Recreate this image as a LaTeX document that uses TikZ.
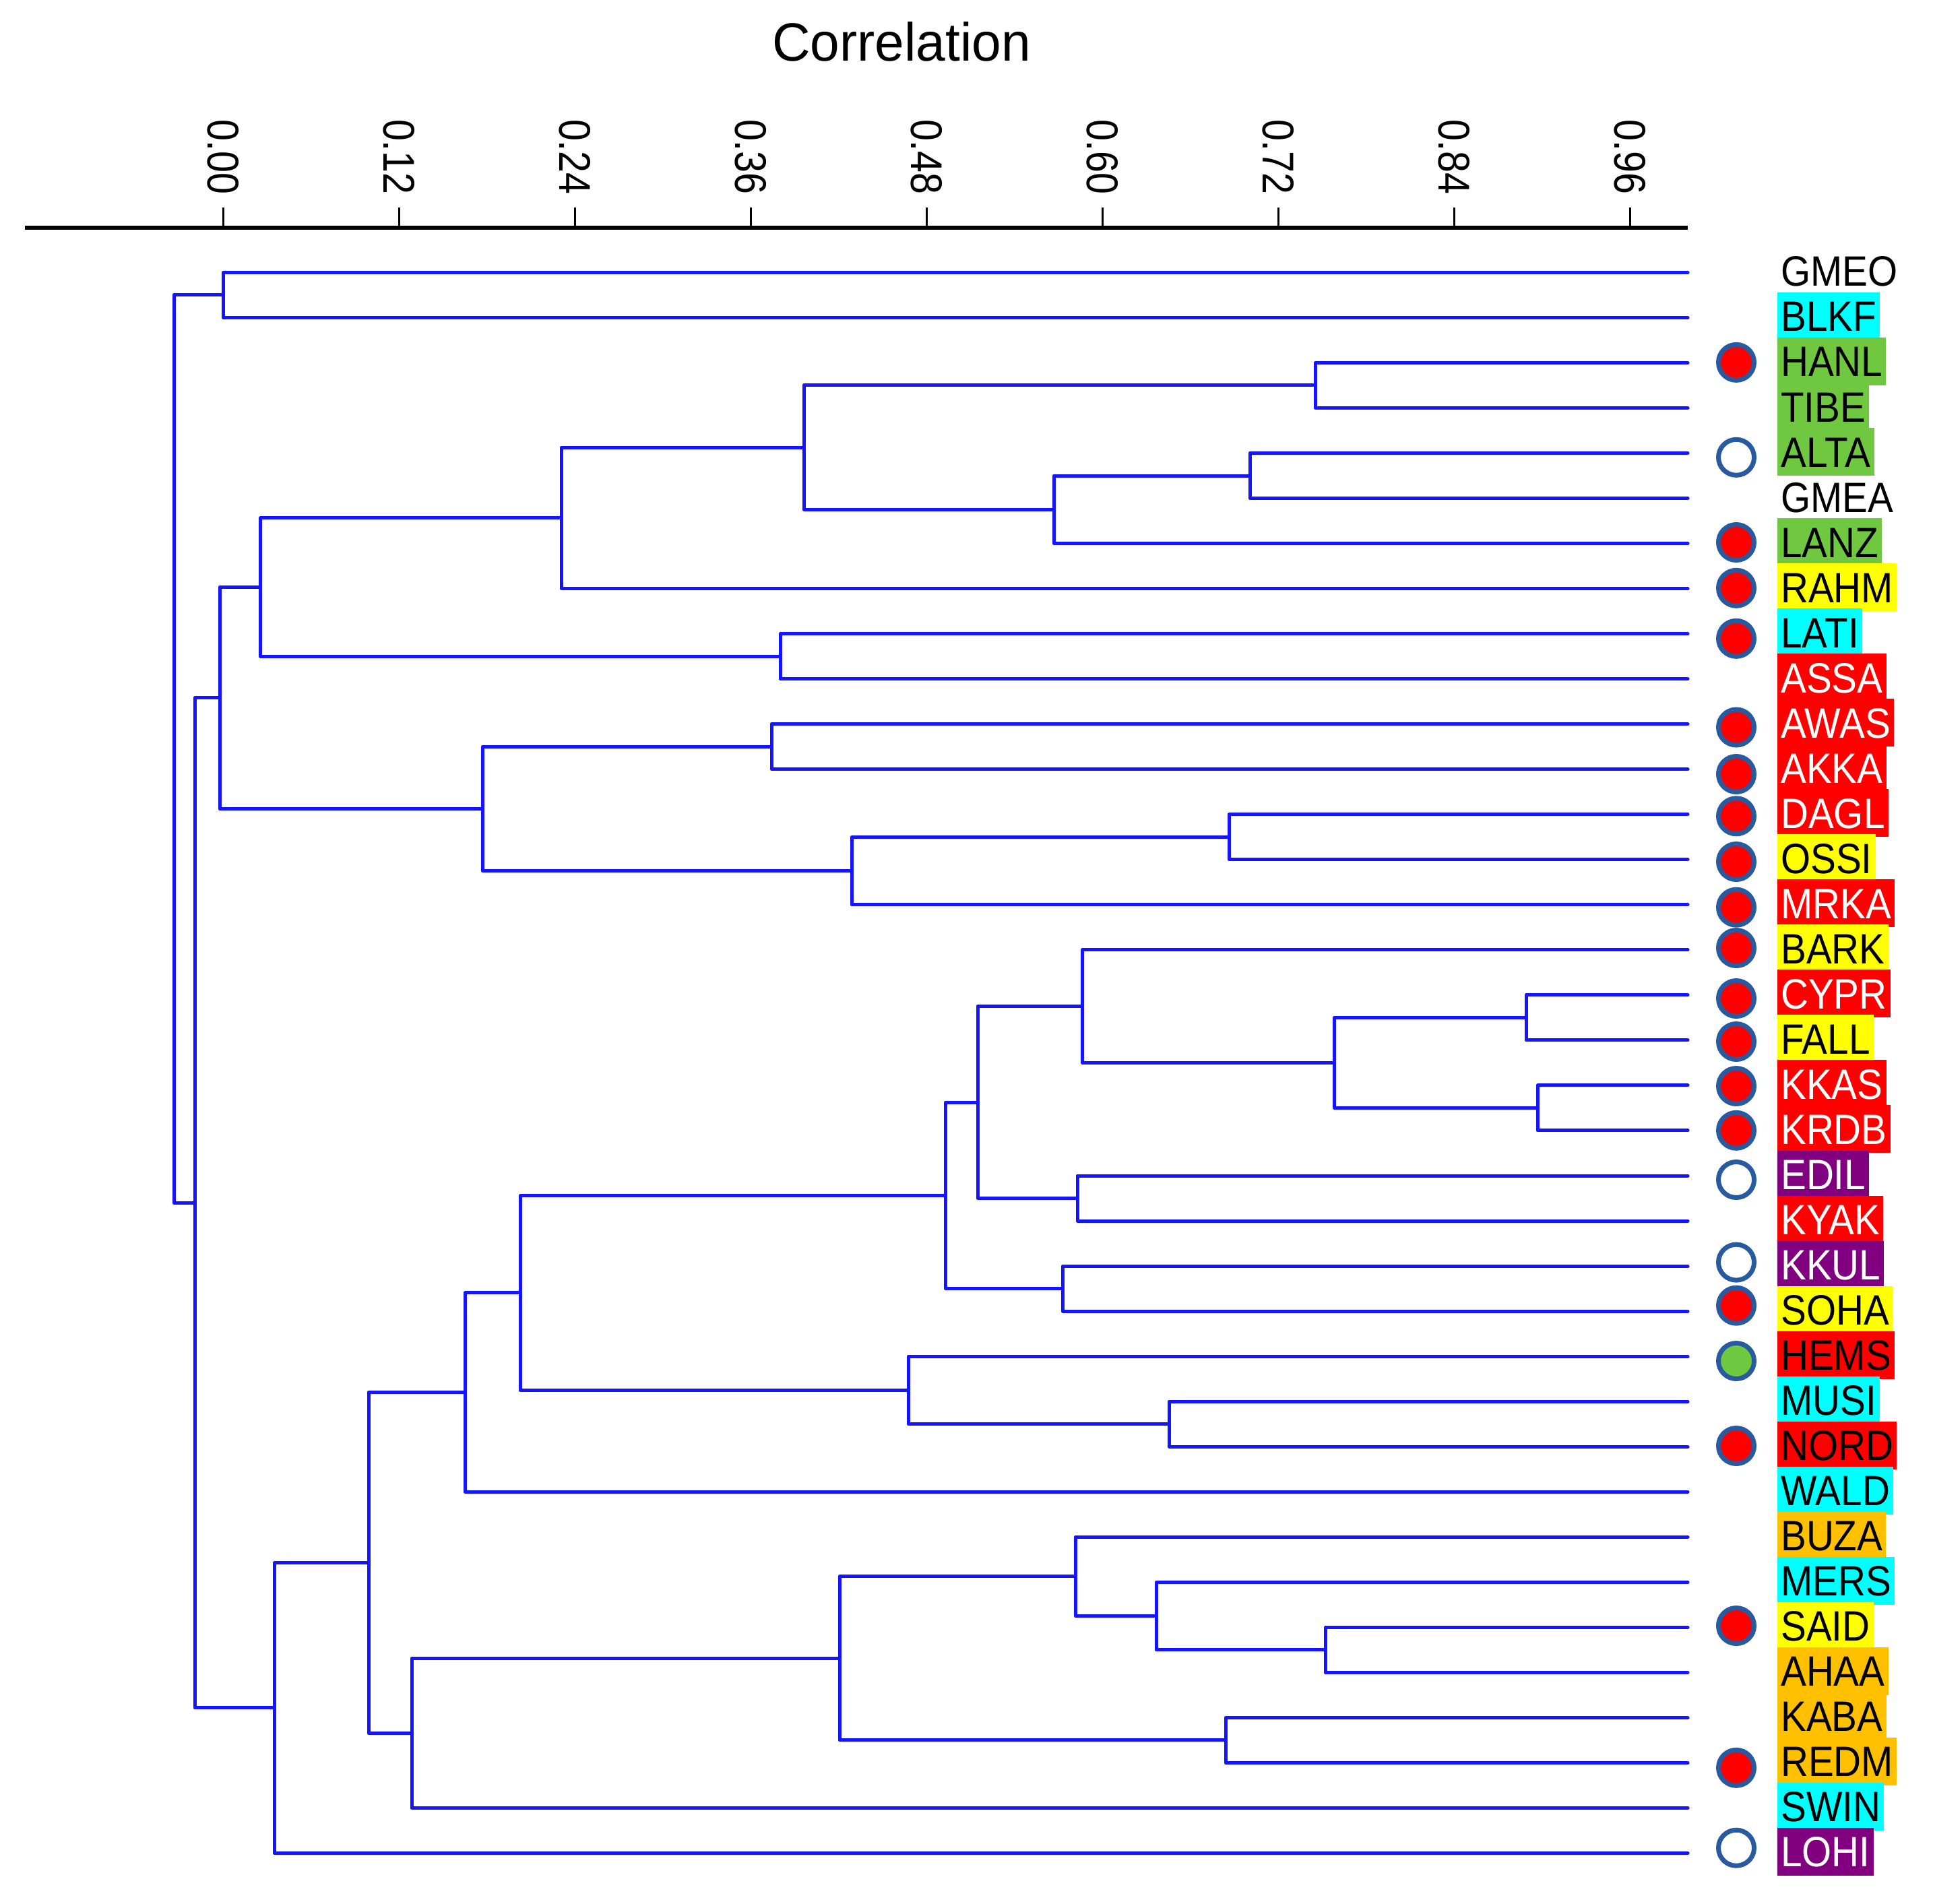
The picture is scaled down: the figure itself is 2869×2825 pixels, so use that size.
\documentclass[tikz,border=0pt]{standalone}
\usepackage{fontspec}
\setmainfont{Liberation Sans}
\newfontfamily\labfont[FakeStretch=0.9]{Liberation Sans}
\newfontfamily\tickfont[FakeStretch=0.87]{Liberation Sans}
\newfontfamily\titfont[FakeStretch=0.98]{Liberation Sans}
\usetikzlibrary{calc}
\definecolor{lgreen}{RGB}{112,200,64}
\definecolor{lcyan}{RGB}{0,255,255}
\definecolor{lyellow}{RGB}{255,255,0}
\definecolor{lred}{RGB}{255,0,0}
\definecolor{lpurple}{RGB}{128,0,128}
\definecolor{lorange}{RGB}{255,192,0}
\definecolor{ring}{RGB}{40,90,160}
\definecolor{branch}{RGB}{20,20,255}
\newcommand\dnode[4]{%
  \coordinate (#1m) at ($(#3)!0.5!(#4)$);%
  \coordinate (#1) at (#1m -| #2,0);%
  \draw[br] (#3) -| (#1) |- (#4);}
\begin{document}
\begin{tikzpicture}[x=1pt,y=-1pt,
  br/.style={draw=branch,line width=5pt,line join=round,line cap=round},
  axisln/.style={draw=black,line width=5.5pt},
  tickln/.style={draw=black,line width=3pt},
  ticklab/.style={rotate=-90,anchor=east,inner sep=0pt,font={\tickfont\fontsize{66}{66}\selectfont}},
  lab/.style={anchor=west,inner xsep=5pt,inner ysep=0pt,minimum height=71pt,text height=45pt,text depth=0pt,font={\labfont\fontsize{63}{63}\selectfont}},
  mk/.style={circle,draw=ring,line width=7pt,minimum size=53pt,inner sep=0pt}]
\useasboundingbox (0,0) rectangle (2869,2825);
\fill[white] (0,0) rectangle (2869,2825);
% title
\node[anchor=base,inner sep=0pt,font={\titfont\fontsize{80}{80}\selectfont}] (title) at (1338,90) {Correlation};
% axis
\coordinate (axL) at (37,338);
\coordinate (axR) at (2505,338);
\draw[axisln] (axL) -- (axR);
\foreach \lb [count=\i from 0] in {0.00,0.12,0.24,0.36,0.48,0.60,0.72,0.84,0.96}{
  \coordinate (tick\i) at ({331+261*\i},338);
  \draw[tickln] (tick\i) -- ++(0,-30);
  \node[ticklab] (tl\i) at ({331+261*\i},289) {\lb};
}
% leaves and labels
\foreach \n/\bg/\fg [count=\i from 0] in {
  GMEO/none/black, BLKF/lcyan/black, HANL/lgreen/black, TIBE/lgreen/black,
  ALTA/lgreen/black, GMEA/none/black, LANZ/lgreen/black, RAHM/lyellow/black,
  LATI/lcyan/black, ASSA/lred/white, AWAS/lred/white, AKKA/lred/white,
  DAGL/lred/white, OSSI/lyellow/black, MRKA/lred/white, BARK/lyellow/black,
  CYPR/lred/white, FALL/lyellow/black, KKAS/lred/white, KRDB/lred/white,
  EDIL/lpurple/white, KYAK/lred/white, KKUL/lpurple/white, SOHA/lyellow/black,
  HEMS/lred/black, MUSI/lcyan/black, NORD/lred/black, WALD/lcyan/black,
  BUZA/lorange/black, MERS/lcyan/black, SAID/lyellow/black, AHAA/lorange/black,
  KABA/lorange/black, REDM/lorange/black, SWIN/lcyan/black, LOHI/lpurple/white}{
  \coordinate (\n) at (2505,{404.4+67.03*\i});
  \node[lab,fill=\bg,text=\fg] (t\n) at (2638,{402.4+67.03*\i}) {\n};
}
% markers
\foreach \n/\y/\f in {
  HANL/537.9/lred, ALTA/678.8/white, LANZ/805/lred, RAHM/872.8/lred,
  LATI/947.8/lred, AWAS/1079.5/lred, AKKA/1149/lred, DAGL/1211.3/lred,
  OSSI/1279/lred, MRKA/1346.7/lred, BARK/1407/lred, CYPR/1482/lred,
  FALL/1546/lred, KKAS/1612/lred, KRDB/1677.8/lred, EDIL/1751/white,
  KKUL/1873.6/white, SOHA/1937.7/lred, HEMS/2020/lgreen, NORD/2146/lred,
  SAID/2413/lred, REDM/2623.8/lred, LOHI/2742.7/white}{
  \node[mk,fill=\f] (c\n) at (2577,\y) {};
}
% dendrogram
\dnode{A1}{331}{GMEO}{BLKF}
\dnode{A2}{1952}{HANL}{TIBE}
\dnode{A3}{1855}{ALTA}{GMEA}
\dnode{A4}{1564}{A3}{LANZ}
\dnode{A5}{1193}{A2}{A4}
\dnode{A6}{833}{A5}{RAHM}
\dnode{A7}{1158}{LATI}{ASSA}
\dnode{A8}{386}{A6}{A7}
\dnode{A9}{1145}{AWAS}{AKKA}
\dnode{A10}{1824}{DAGL}{OSSI}
\dnode{A11}{1264}{A10}{MRKA}
\dnode{A12}{716}{A9}{A11}
\dnode{A13}{326}{A8}{A12}
\dnode{A14}{2265}{CYPR}{FALL}
\dnode{A15}{2282}{KKAS}{KRDB}
\dnode{A16}{1980}{A14}{A15}
\dnode{A17}{1606}{BARK}{A16}
\dnode{A18}{1599}{EDIL}{KYAK}
\dnode{A19}{1451}{A17}{A18}
\dnode{A20}{1577}{KKUL}{SOHA}
\dnode{A21}{1403}{A19}{A20}
\dnode{A22}{1735}{MUSI}{NORD}
\dnode{A23}{1348}{HEMS}{A22}
\dnode{A24}{772}{A21}{A23}
\dnode{A25}{690}{A24}{WALD}
\dnode{A26}{1967}{SAID}{AHAA}
\dnode{A27}{1716}{MERS}{A26}
\dnode{A28}{1596}{BUZA}{A27}
\dnode{A29}{1819}{KABA}{REDM}
\dnode{A30}{1246}{A28}{A29}
\dnode{A31}{611}{A30}{SWIN}
\dnode{A32}{547}{A25}{A31}
\dnode{A33}{407}{A32}{LOHI}
\dnode{A34}{289}{A13}{A33}
\dnode{A35}{258}{A1}{A34}
\end{tikzpicture}
\end{document}
